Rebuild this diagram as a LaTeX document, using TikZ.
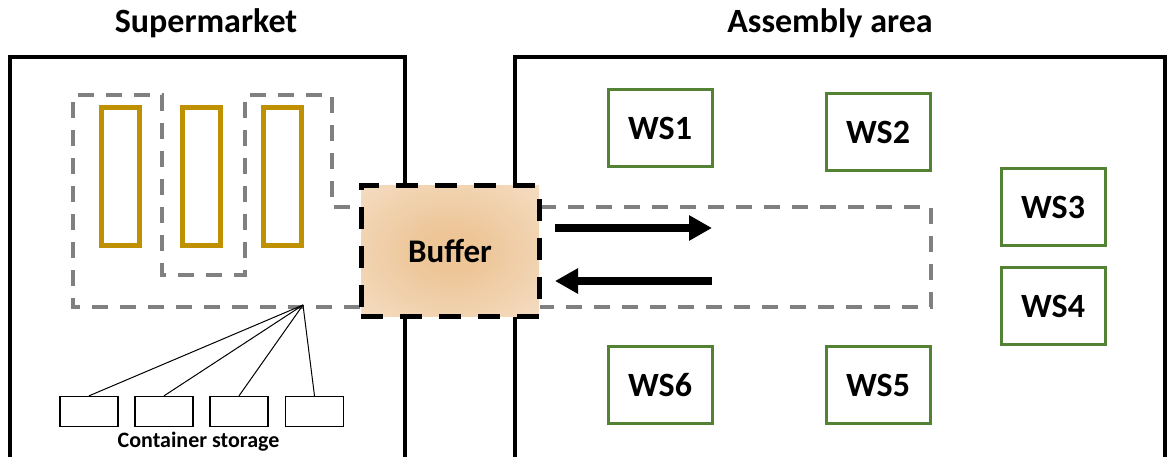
\documentclass[tikz,border=0pt]{standalone}
\usepackage{fontspec}
\setmainfont{Carlito}
\usetikzlibrary{arrows.meta}
\definecolor{rackgold}{HTML}{BF9000}
\definecolor{wsgreen}{HTML}{548235}
\definecolor{pathgray}{HTML}{808080}
\definecolor{bufin}{HTML}{EDC597}
\definecolor{bufout}{HTML}{F8E9D8}
\pgfdeclareradialshading{buffershade}{\pgfpoint{0bp}{0bp}}{%
  color(0bp)=(bufin); color(8bp)=(bufin); color(50bp)=(bufout); color(100bp)=(bufout)}
\begin{document}
\begin{tikzpicture}[x=1pt,y=-1pt,
  area/.style={draw=black,line width=4.5pt},
  title/.style={anchor=base,font=\fontsize{34}{34}\selectfont\bfseries},
  rack/.style={draw=rackgold,line width=5pt,minimum width=38pt,minimum height=138pt,inner sep=0pt},
  ws/.style={draw=wsgreen,line width=3pt,minimum width=104pt,minimum height=77pt,inner sep=0pt,
             font=\fontsize{34}{34}\selectfont\bfseries},
  container/.style={draw=black,line width=1.3pt,minimum width=58pt,minimum height=30pt,inner sep=0pt},
  route/.style={draw=pathgray,line width=3.5pt,dash pattern=on 16pt off 12pt},
  feed/.style={draw=black,line width=1pt},
  flow/.style={draw=black,line width=8pt,-{Triangle[length=23pt,width=24pt]}},
  bufferbox/.style={draw=black,line width=5pt,dash pattern=on 22pt off 17pt,
             shading=buffershade,minimum width=178pt,minimum height=130pt,
             inner sep=0pt,font=\fontsize{33}{33}\selectfont\bfseries}
]
\useasboundingbox (0,0) rectangle (1169,457);
\clip (0,0) rectangle (1169,457);

% area outlines (open at the bottom edge)
\draw[area] (10,470) -- (10,57) -- (405,57) -- (405,470);
\draw[area] (515,470) -- (515,57) -- (1165,57) -- (1165,470);

% area titles
\node[title] (tsm) at (206,33) {Supermarket};
\node[title] (tas) at (830,33) {Assembly area};

% picking route through the supermarket
\draw[route] (360,307) -- (73,307) -- (73,95) -- (162,95) -- (162,275) -- (245,275)
  -- (245,95) -- (332,95) -- (332,207) -- (360,207);
% transport loop in the assembly area
\draw[route] (540,207) -- (931,207) -- (931,307) -- (540,307);

% supermarket racks
\node[rack] (r1) at (120.5,176.5) {};
\node[rack] (r2) at (201,176.5) {};
\node[rack] (r3) at (282.5,176.5) {};

% container storage
\coordinate (hub) at (303,305);
\node[container] (c1) at (89,411.5) {};
\node[container] (c2) at (164,411.5) {};
\node[container] (c3) at (239,411.5) {};
\node[container] (c4) at (314.5,411.5) {};
\draw[feed] (hub) -- (c1.north);
\draw[feed] (hub) -- (c2.north);
\draw[feed] (hub) -- (c3.north);
\draw[feed] (hub) -- (c4.north);
\node[anchor=base,font=\fontsize{22}{22}\selectfont\bfseries] (cs) at (198.5,447) {Container storage};

% buffer between the two areas
\node[bufferbox] (buf) at (450,251) {Buffer};

% material flow
\coordinate (f1s) at (555,228);
\coordinate (f1e) at (712,228);
\coordinate (f2s) at (712,281);
\coordinate (f2e) at (555,281);
\draw[flow] (f1s) -- (f1e);
\draw[flow] (f2s) -- (f2e);

% workstations
\node[ws] (ws1) at (660,128) {WS1};
\node[ws] (ws2) at (878,132) {WS2};
\node[ws] (ws3) at (1053,207) {WS3};
\node[ws] (ws4) at (1053,306) {WS4};
\node[ws] (ws5) at (878,385) {WS5};
\node[ws] (ws6) at (660,385) {WS6};
\end{tikzpicture}
\end{document}
